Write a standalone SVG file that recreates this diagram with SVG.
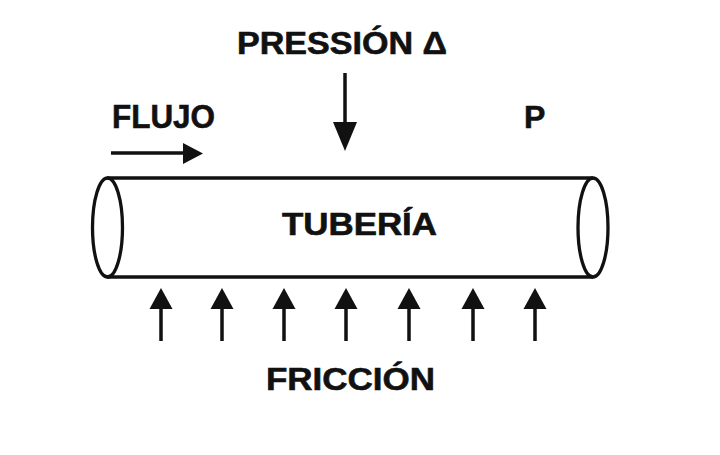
<svg xmlns="http://www.w3.org/2000/svg" width="720" height="455" viewBox="0 0 720 455">
<style>
.t{font-family:"Liberation Sans",Arial,sans-serif;font-weight:bold;fill:#111;stroke:#111;stroke-width:0.6;}
.ln{stroke:#111;stroke-width:3.3;fill:none;}
.sh{stroke:#111;stroke-width:3.5;fill:none;}
.hd{fill:#111;}
</style>
<rect width="720" height="455" fill="#fff"/>
<g id="tuberia">
<line class="ln" x1="107" y1="178" x2="593" y2="178"/>
<line class="ln" x1="107" y1="277" x2="593" y2="277"/>
<ellipse class="ln" cx="107.5" cy="227.5" rx="15" ry="49.5" fill="#fff"/>
<ellipse class="ln" cx="593" cy="227.5" rx="15" ry="49.5"/>
<text class="t" x="282" y="235" font-size="31.5" textLength="155" lengthAdjust="spacingAndGlyphs">TUBERÍA</text>
</g>
<g id="labels">
<text class="t" x="237" y="54" font-size="30.5" textLength="210" lengthAdjust="spacingAndGlyphs">PRESSIÓN Δ</text>
<text class="t" x="112" y="128" font-size="32.5" textLength="103" lengthAdjust="spacingAndGlyphs">FLUJO</text>
<text class="t" x="524" y="128" font-size="32">P</text>
<text class="t" x="266" y="390" font-size="31.5" textLength="169" lengthAdjust="spacingAndGlyphs">FRICCIÓN</text>
</g>
<g id="connectors">
<line class="sh" x1="111" y1="153" x2="186" y2="153"/>
<polygon class="hd" points="183,143 203,153.5 183,164"/>
<line class="sh" x1="345" y1="73" x2="345" y2="125"/>
<polygon class="hd" points="333,122 357,122 345,151"/>
<g id="friccion-arrows">
<path class="sh" d="M161,341V306M222,341V306M284,341V306M346,341V306M409,341V306M473,341V306M535,341V306"/>
<polygon class="hd" points="161,288 172.5,309 149.5,309"/>
<polygon class="hd" points="222,288 233.5,309 210.5,309"/>
<polygon class="hd" points="284,288 295.5,309 272.5,309"/>
<polygon class="hd" points="346,288 357.5,309 334.5,309"/>
<polygon class="hd" points="409,288 420.5,309 397.5,309"/>
<polygon class="hd" points="473,288 484.5,309 461.5,309"/>
<polygon class="hd" points="535,288 546.5,309 523.5,309"/>
</g>
</g>
</svg>
